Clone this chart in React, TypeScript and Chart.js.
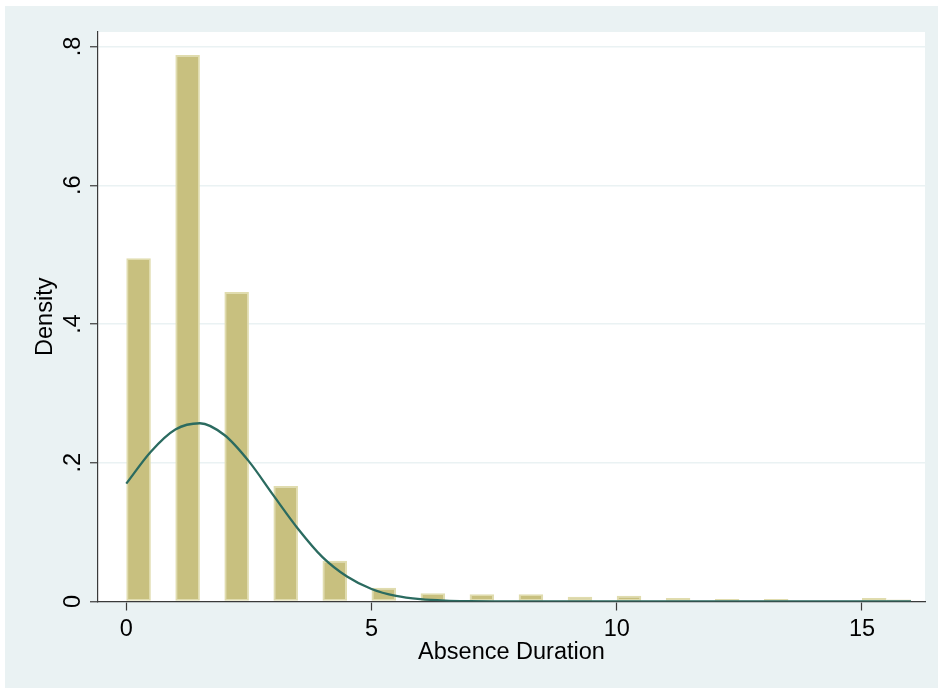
import React, { useEffect, useRef } from "react";
import { Chart, registerables } from "chart.js";

Chart.register(...registerables);

// Histogram bins (lower edge) and density per bin, width 0.5
const binLowerEdges = [
  0, 0.5, 1, 1.5, 2, 2.5, 3, 3.5, 4, 4.5, 5, 5.5, 6, 6.5, 7, 7.5,
  8, 8.5, 9, 9.5, 10, 10.5, 11, 11.5, 12, 12.5, 13, 13.5, 14, 14.5, 15, 15.5,
];
const binDensity = [
  0.495, 0, 0.788, 0, 0.446, 0, 0.1665, 0, 0.0588, 0, 0.0199, 0, 0.0118, 0, 0.0104, 0,
  0.0104, 0, 0.0069, 0, 0.0084, 0, 0.005, 0, 0.0036, 0, 0.0036, 0, 0, 0, 0.005, 0.003,
];
const binWidth = 0.5;

// Normal density overlay
const curveX = [0, 0.5, 1, 1.5, 2, 2.5, 3, 3.5, 4, 4.5, 5, 5.5, 6, 6.5, 7, 7.5, 8, 16];
const curveY = [
  0.17, 0.216, 0.248, 0.257, 0.24, 0.202, 0.153, 0.105, 0.064, 0.036, 0.018, 0.008,
  0.0033, 0.0012, 0.0004, 0.0001, 0, 0,
];

const xTickValues = [0, 5, 10, 15];
const xTickLabels = ["0", "5", "10", "15"];
const yTickValues = [0, 0.2, 0.4, 0.6, 0.8];
const yTickLabels = ["0", ".2", ".4", ".6", ".8"];

const xTitle = "Absence Duration";
const yTitle = "Density";

const W = 938;
const H = 690;
const FONT = '23.5px "Liberation Sans", Arial, sans-serif';
const BG = "#eaf2f3";

const framePlugin = {
  id: "stataFrame",
  beforeDraw(chart: any) {
    const { ctx, chartArea } = chart;
    ctx.save();
    ctx.fillStyle = "#ffffff";
    ctx.fillRect(0, 0, W, H);
    ctx.fillStyle = BG;
    ctx.fillRect(5, 6, W - 5, H - 8);
    ctx.fillStyle = "#ffffff";
    ctx.fillRect(
      chartArea.left,
      chartArea.top,
      chartArea.right - chartArea.left,
      chartArea.bottom - chartArea.top
    );
    ctx.restore();
  },
  afterDraw(chart: any) {
    const { ctx, chartArea, scales } = chart;
    const xs = scales.x;
    const ys = scales.y;
    ctx.save();
    ctx.fillStyle = "#000000";
    ctx.font = FONT;
    ctx.textBaseline = "alphabetic";
    ctx.textAlign = "center";
    xTickValues.forEach((v, i) => {
      ctx.fillText(xTickLabels[i], xs.getPixelForValue(v), 636);
    });
    ctx.fillText(xTitle, (chartArea.left + chartArea.right) / 2, 659);

    yTickValues.forEach((v, i) => {
      ctx.save();
      ctx.translate(80, ys.getPixelForValue(v));
      ctx.rotate(-Math.PI / 2);
      ctx.fillText(yTickLabels[i], 0, 0);
      ctx.restore();
    });
    ctx.save();
    ctx.translate(52, (chartArea.top + chartArea.bottom) / 2);
    ctx.rotate(-Math.PI / 2);
    ctx.fillText(yTitle, 0, 0);
    ctx.restore();
    ctx.restore();
  },
};

export default function App() {
  const ref = useRef<HTMLCanvasElement | null>(null);

  useEffect(() => {
    if (!ref.current) return;
    const bars = binLowerEdges.map((e, i) => ({ x: e + binWidth / 2, y: binDensity[i] }));
    const curve = curveX.map((x, i) => ({ x, y: curveY[i] }));
    const chart = new Chart(ref.current, {
      type: "bar",
      data: {
        datasets: [
          {
            type: "line",
            data: curve,
            borderColor: "#2b6b60",
            borderWidth: 2.3,
            pointRadius: 0,
            cubicInterpolationMode: "monotone",
            fill: false,
            order: 0,
          } as any,
          {
            type: "bar",
            data: bars,
            backgroundColor: "#c8c07f",
            borderColor: "#e0dcae",
            borderWidth: 1.8,
            borderSkipped: false,
            barPercentage: 1,
            categoryPercentage: 1,
            inflateAmount: 0,
            order: 1,
          } as any,
        ],
      },
      options: {
        responsive: false,
        animation: false,
        devicePixelRatio: 1,
        layout: { padding: { left: 0, top: 32, right: 13, bottom: 0 } },
        plugins: {
          legend: { display: false },
          tooltip: { enabled: false },
          title: { display: false },
        },
        scales: {
          x: {
            type: "linear",
            min: -0.577,
            max: 16.285,
            offset: false,
            afterFit(s: any) {
              s.height = 88.5;
            },
            afterBuildTicks(s: any) {
              s.ticks = xTickValues.map((v) => ({ value: v }));
            },
            ticks: { display: false },
            grid: {
              offset: false,
              drawOnChartArea: false,
              drawTicks: true,
              tickLength: 9,
              tickColor: "#3a3a3a",
              tickWidth: 1.2,
            },
            border: { display: true, color: "#3a3a3a", width: 1.2 },
          },
          y: {
            type: "linear",
            min: 0,
            max: 0.821,
            afterFit(s: any) {
              s.width = 98;
            },
            afterBuildTicks(s: any) {
              s.ticks = yTickValues.map((v) => ({ value: v }));
            },
            ticks: { display: false },
            grid: {
              color: BG,
              lineWidth: 1.5,
              drawTicks: true,
              tickLength: 8,
              tickColor: "#3a3a3a",
              tickWidth: 1.2,
            },
            border: { display: true, color: "#3a3a3a", width: 1.2 },
          },
        },
      },
      plugins: [framePlugin],
    });
    return () => chart.destroy();
  }, []);

  return (
    <div style={{ position: "absolute", left: 0, top: 0, width: W, height: H }}>
      <canvas ref={ref} width={W} height={H} style={{ display: "block", width: W, height: H }} />
    </div>
  );
}
